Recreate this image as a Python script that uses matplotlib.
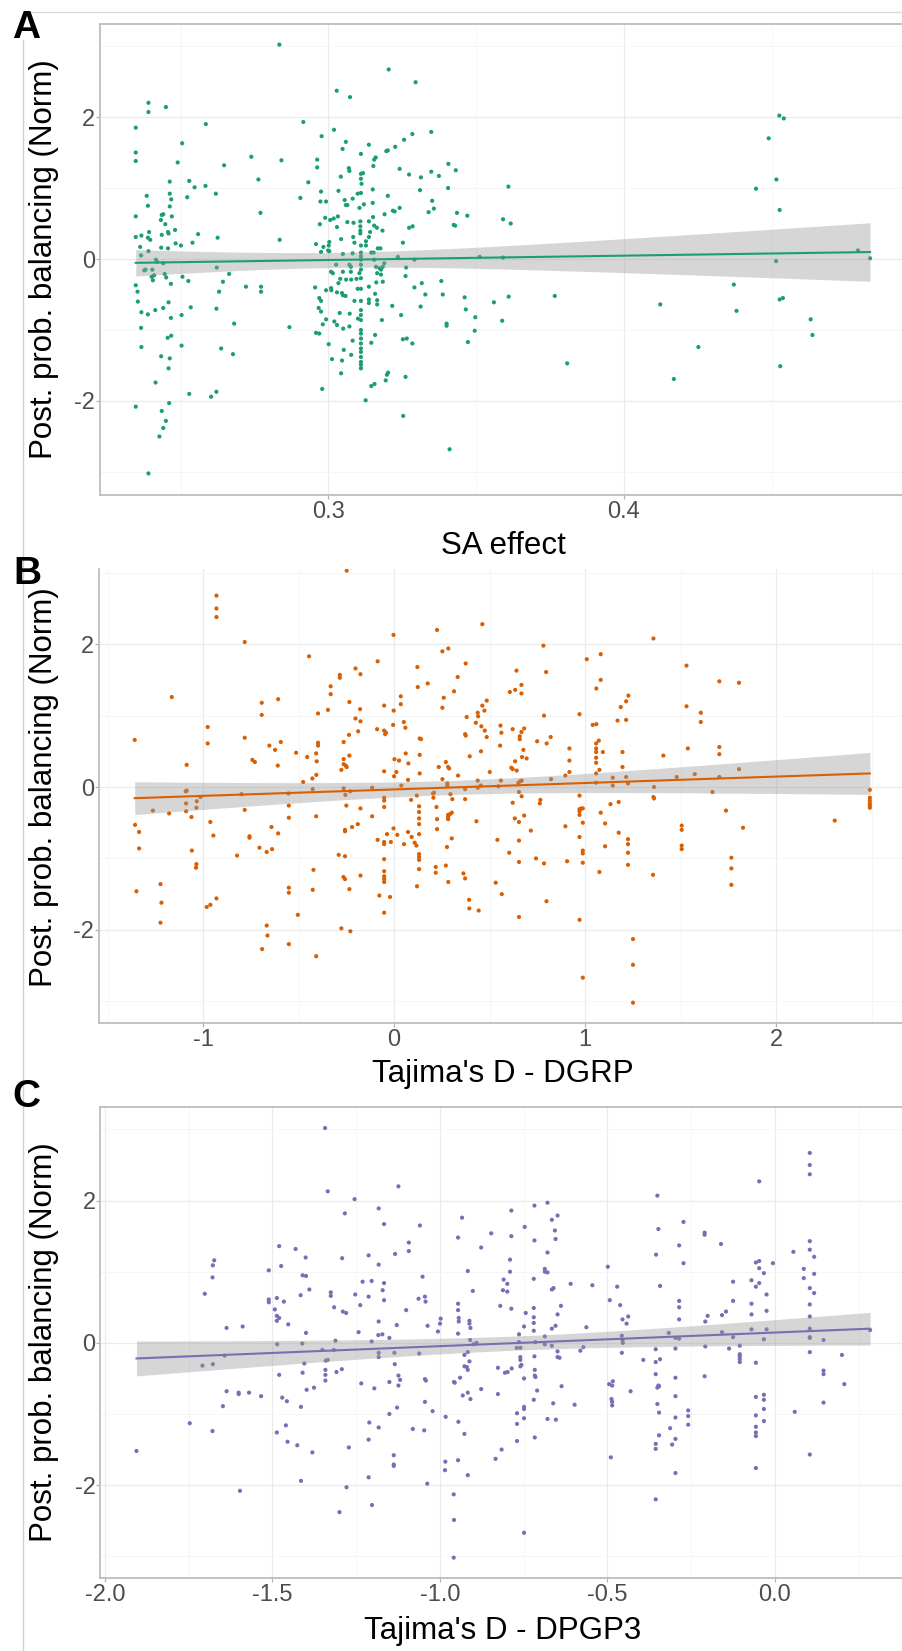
import numpy as np
import matplotlib
matplotlib.use("Agg")
import matplotlib.pyplot as plt
from matplotlib.lines import Line2D

plt.rcParams['font.family'] = ['Liberation Sans', 'DejaVu Sans']
plt.rcParams['axes.unicode_minus'] = False

# ---------------- data ----------------
# Panel A: SA effect vs posterior probability of balancing (normalised)
sa_effect = [
    0.3028, 0.3073, 0.3295, 0.2391, 0.2391, 0.2450, 0.2348, 0.2585, 0.2915, 0.3019,
    0.2977, 0.3348, 0.3284, 0.3256, 0.3059, 0.3137, 0.3048, 0.3226, 0.3201, 0.3196,
    0.2348, 0.2348, 0.2505, 0.2490, 0.2739, 0.2841, 0.2647, 0.2962, 0.2962, 0.3160,
    0.3155, 0.3110, 0.3069, 0.3071, 0.3152, 0.3110, 0.3117, 0.3042, 0.3110, 0.3112,
    0.3241, 0.3273, 0.3313, 0.3348, 0.3374, 0.3406, 0.3431, 0.3405, 0.3310, 0.2463,
    0.2529, 0.2547, 0.2584, 0.2763, 0.2932, 0.2463, 0.2385, 0.2522, 0.2619, 0.2468,
    0.2389, 0.2463, 0.2441, 0.2436, 0.2470, 0.2348, 0.2433, 0.2448, 0.2481, 0.2457,
    0.2459, 0.2348, 0.2367, 0.2393, 0.2389, 0.2397, 0.2436, 0.2434, 0.2457, 0.2483,
    0.2501, 0.2540, 0.2559, 0.2625, 0.2363, 0.2391, 0.2366, 0.2770, 0.2905, 0.2835,
    0.2975, 0.2973, 0.2992, 0.3034, 0.3055, 0.3059, 0.3064, 0.3082, 0.3099, 0.3110,
    0.3120, 0.3105, 0.3150, 0.3150, 0.3201, 0.3218, 0.3224, 0.3241, 0.3351, 0.3357,
    0.3339, 0.3435, 0.3470, 0.3424, 0.3429, 0.3273, 0.3285, 0.3190, 0.3151, 0.2971,
    0.2989, 0.3006, 0.3018, 0.3032, 0.3029, 0.3064, 0.3085, 0.3108, 0.3108, 0.3137,
    0.3108, 0.3108, 0.3155, 0.3164, 0.3183, 0.3141, 0.3137, 0.3127, 0.3084, 0.3043,
    0.3088, 0.3110, 0.3127, 0.3003, 0.3001, 0.2983, 0.3003, 0.2958, 0.2975, 0.2999,
    0.3167, 0.3176, 0.3145, 0.3153, 0.3252, 0.3235, 0.3291, 0.3512, 0.3049, 0.3082,
    0.3110, 0.3110, 0.3110, 0.3071, 0.3076, 0.3026, 0.3155, 0.3161, 0.3189, 0.3184,
    0.3110, 0.3110, 0.3009, 0.3015, 0.3049, 0.3076, 0.3105, 0.3173, 0.3178, 0.3165,
    0.3263, 0.3261, 0.3060, 0.3077, 0.3095, 0.3110, 0.3040, 0.3034, 0.3009, 0.3010,
    0.2992, 0.2955, 0.3029, 0.3046, 0.3058, 0.3049, 0.3099, 0.3110, 0.3137, 0.3162,
    0.3184, 0.3178, 0.3088, 0.3110, 0.3137, 0.3137, 0.3165, 0.3165, 0.3158, 0.3291,
    0.3316, 0.3328, 0.3382, 0.3387, 0.3461, 0.3560, 0.2969, 0.2975, 0.2967, 0.2975,
    0.2992, 0.2981, 0.3038, 0.3072, 0.3100, 0.3110, 0.3110, 0.3020, 0.3029, 0.3050,
    0.3071, 0.3110, 0.3110, 0.3110, 0.3110, 0.3082, 0.3110, 0.3110, 0.3110, 0.3110,
    0.3110, 0.3110, 0.3110, 0.3052, 0.3077, 0.3046, 0.3012, 0.3001, 0.2958, 0.2969,
    0.3043, 0.2979, 0.3126, 0.3145, 0.3156, 0.3194, 0.3198, 0.3202, 0.3145, 0.3158,
    0.3181, 0.3216, 0.3246, 0.3252, 0.3265, 0.3284, 0.3261, 0.3312, 0.3253, 0.3400,
    0.3400, 0.3465, 0.3497, 0.3495, 0.3472, 0.3410, 0.2348, 0.2354, 0.2355, 0.2367,
    0.2389, 0.2366, 0.2367, 0.2348, 0.2377, 0.2381, 0.2404, 0.2402, 0.2406, 0.2410,
    0.2416, 0.2420, 0.2441, 0.2446, 0.2451, 0.2467, 0.2414, 0.2441, 0.2459, 0.2467,
    0.2456, 0.2468, 0.2434, 0.2463, 0.2459, 0.2415, 0.2461, 0.2436, 0.2450, 0.2441,
    0.2428, 0.2391, 0.2506, 0.2526, 0.2534, 0.2503, 0.2503, 0.2529, 0.2603, 0.2621,
    0.2637, 0.2677, 0.2621, 0.2622, 0.2630, 0.2643, 0.2664, 0.2681, 0.2721, 0.2772,
    0.2772, 0.2868, 0.2834, 0.3204, 0.4526, 0.4541, 0.4490, 0.4516, 0.4447, 0.4527,
    0.3609, 0.3591, 0.3617, 0.3591, 0.4792, 0.4833, 0.4515, 0.3610, 0.3588, 0.3766,
    0.3808, 0.4123, 0.4169, 0.4252, 0.4372, 0.4381, 0.4527, 0.4538, 0.4529, 0.4632,
    0.4638,
]
balancing_a = [
    2.37, 2.28, 2.49, 2.20, 2.07, 2.14, 1.85, 1.90, 1.93, 1.82,
    1.73, 1.79, 1.76, 1.68, 1.65, 1.61, 1.55, 1.58, 1.53, 1.52,
    1.50, 1.38, 1.63, 1.36, 1.44, 1.39, 1.32, 1.40, 1.29, 1.43,
    1.40, 1.48, 1.28, 1.24, 1.31, 1.20, 1.21, 1.16, 1.13, 1.06,
    1.27, 1.19, 1.15, 1.23, 1.17, 1.34, 1.25, 1.00, 0.97, 1.09,
    1.10, 1.01, 1.03, 1.12, 1.08, 0.92, 0.89, 0.87, 0.92, 0.84,
    0.75, 0.74, 0.63, 0.62, 0.60, 0.60, 0.55, 0.49, 0.41, 0.38,
    0.36, 0.31, 0.33, 0.38, 0.30, 0.27, 0.34, 0.16, 0.15, 0.22,
    0.19, 0.23, 0.35, 0.30, 0.17, 0.11, 0.05, 0.65, 0.86, 0.27,
    0.95, 0.81, 0.81, 0.96, 0.83, 0.76, 0.76, 0.85, 0.92, 0.93,
    0.77, 0.72, 0.79, 0.98, 0.89, 0.68, 0.67, 0.72, 0.82, 0.71,
    0.66, 0.65, 0.61, 0.48, 0.47, 0.44, 0.46, 0.63, 0.59, 0.49,
    0.58, 0.55, 0.57, 0.60, 0.45, 0.52, 0.51, 0.53, 0.46, 0.53,
    0.40, 0.36, 0.47, 0.44, 0.40, 0.38, 0.31, 0.25, 0.31, 0.28,
    0.23, 0.19, 0.19, 0.24, 0.19, 0.17, 0.11, 0.21, 0.10, 0.12,
    0.15, 0.15, 0.09, 0.09, 0.23, 0.03, -0.01, 0.03, 0.07, 0.08,
    0.09, 0.04, -0.01, -0.08, -0.11, -0.08, -0.01, -0.11, -0.06, -0.11,
    -0.08, -0.15, -0.18, -0.20, -0.18, -0.18, -0.20, -0.13, -0.15, -0.20,
    -0.12, -0.24, -0.29, -0.29, -0.28, -0.27, -0.28, -0.34, -0.41, -0.44,
    -0.44, -0.40, -0.47, -0.48, -0.52, -0.51, -0.42, -0.42, -0.39, -0.33,
    -0.32, -0.22, -0.59, -0.59, -0.57, -0.62, -0.58, -0.64, -0.49, -0.40,
    -0.34, -0.50, -0.31, -0.50, -0.54, -0.61, -0.55, -0.59, -0.69, -0.74,
    -0.85, -0.92, -0.76, -0.77, -0.84, -0.72, -0.79, -0.88, -0.93, -0.98,
    -0.95, -0.86, -1.00, -1.05, -1.12, -1.15, -1.19, -1.26, -1.31, -1.38,
    -1.45, -1.49, -1.54, -1.28, -1.35, -1.43, -1.41, -1.20, -1.04, -1.05,
    -1.61, -1.83, -1.99, -1.79, -1.76, -1.71, -1.63, -1.60, -1.18, -1.07,
    -0.86, -0.66, -0.79, -1.13, -1.12, -1.19, -1.66, -0.67, -2.21, -0.91,
    -0.94, -0.71, -0.82, -1.01, -1.17, -2.68, -0.37, -0.46, -0.60, -0.75,
    -0.78, -0.97, -1.24, -2.08, -0.16, -0.15, -0.15, -0.25, -0.30, -0.23,
    -0.01, -0.04, -0.06, -0.21, -0.26, -0.35, -0.72, -0.69, -0.61, -0.83,
    -1.11, -1.08, -1.37, -1.40, -1.54, -1.74, -2.03, -2.14, -2.28, -2.38,
    -2.50, -3.02, -0.25, -0.31, -0.68, -0.79, -1.22, -1.90, -1.94, -1.87,
    -1.26, -1.34, -0.70, -0.12, -0.46, -0.32, -0.21, -0.91, -0.39, -0.39,
    -0.46, -0.96, 3.02, 2.67, 2.02, 1.98, 1.70, 1.12, 0.99, 0.69,
    1.02, 0.56, 0.50, 0.02, 0.12, 0.01, -0.03, -0.53, -0.87, -0.52,
    -1.47, -0.64, -1.69, -1.24, -0.36, -0.73, -0.57, -0.55, -1.51, -0.85,
    -1.07,
]

# Panel B: Tajima's D (DGRP)
tajima_dgrp = [
    -0.248, -0.930, -0.930, -0.930, -0.782, -0.003, 0.225, 0.462, 0.253, 0.284,
    0.375, -0.445, -0.086, 0.122, -0.202, -0.176, -0.284, -0.284, 0.176, 0.124,
    0.333, 0.314, 0.260, 0.253, -0.332, -0.332, 0.035, 0.035, -0.234, -0.052,
    -0.002, -0.178, -0.346, -0.398, -0.693, -0.693, -0.607, -1.164, -0.202, -0.176,
    -0.188, 0.051, 0.059, -0.005, -0.089, -0.052, -0.047, -0.042, -0.236, 0.380,
    0.372, 0.375, 0.428, 0.438, 0.440, 0.462, 0.473, 0.485, 0.457, 0.475,
    0.485, 0.134, 0.141, 0.134, 0.061, 0.075, 0.002, 0.026, 0.012, 0.000,
    -0.052, 0.134, 0.073, 0.038, 0.234, 0.253, 0.271, 0.283, 0.288, 0.335,
    0.396, 0.455, 0.501, 0.279, 0.279, 0.372, 0.438, 0.438, 0.454, -0.976,
    -0.976, -1.358, -1.086, -0.782, -0.742, -0.729, -0.653, -0.623, -0.593, -0.609,
    -0.513, -0.455, -0.476, -0.428, -0.408, -0.405, -0.398, -0.398, -0.407, -0.264,
    -0.264, -0.264, -0.253, -0.248, -0.276, -0.234, -0.426, -0.553, -0.551, -0.551,
    -0.799, -0.782, -1.014, -1.033, -1.035, -1.086, -1.091, -1.089, -1.089, -1.061,
    -1.263, -1.178, -1.356, -1.335, -1.335, -1.349, -0.962, -0.946, -1.059, -1.035,
    -1.037, -1.223, -1.218, -1.223, -0.981, -0.962, -0.930, -0.757, -0.757, -0.822,
    -0.705, -0.667, -0.639, -0.642, -0.607, -0.551, -0.551, -0.504, -0.667, -0.663,
    -0.691, -0.551, -0.408, -0.276, -0.229, -0.422, -0.426, -0.408, -0.250, -0.230,
    -0.255, -0.264, -0.220, -0.190, -0.257, -0.257, -0.290, -0.257, -0.265, -0.257,
    -0.234, -0.176, -0.176, -0.115, -0.115, -0.086, -0.052, -0.052, -0.052, -0.052,
    -0.052, -0.052, -0.052, -0.052, -0.052, -0.052, -0.052, -0.077, -0.021, -0.037,
    -0.017, -0.003, 0.017, 0.052, 0.073, 0.089, 0.092, 0.108, 0.117, 0.119,
    0.131, 0.131, 0.131, 0.131, 0.131, 0.131, 0.131, 0.131, 0.131, 0.120,
    0.204, 0.206, 0.209, 0.222, 0.225, 0.225, 0.218, 0.218, 0.271, 0.284,
    0.277, 0.283, 0.283, 0.283, 0.293, 0.302, 0.295, 0.305, 0.302, 0.372,
    0.363, 0.372, 0.393, 0.394, 0.443, 0.431, 0.782, 0.641, 0.796, 0.606,
    0.634, 0.667, 0.667, 1.009, 1.082, 1.059, 1.082, 1.227, 1.215, 1.187,
    1.215, 1.170, 1.358, 1.531, 1.531, 1.606, 1.606, 1.703, 1.806, 0.785,
    0.971, 1.040, 1.059, 0.557, 0.562, 0.555, 0.621, 0.681, 0.667, 0.658,
    0.658, 0.820, 0.749, 0.799, 0.677, 0.670, 0.694, 0.634, 0.614, 0.621,
    0.642, 0.918, 0.918, 0.918, 0.897, 0.822, 1.072, 1.058, 1.058, 1.058,
    1.093, 1.058, 1.058, 1.075, 1.058, 1.058, 1.196, 1.196, 1.145, 1.145,
    1.215, 1.225, 1.410, 1.538, 1.574, 1.480, 1.703, 1.703, 1.703, 1.806,
    1.667, 1.361, 1.358, 1.361, 1.738, 1.827, 1.766, 1.766, 1.766, 2.307,
    2.491, 2.491, 2.491, 2.491, 2.491, 2.491, 0.546, 0.559, 0.651, 0.660,
    0.668, 0.654, 0.668, 0.621, 0.766, 0.763, 0.632, 0.654, 0.681, 0.716,
    0.541, 0.654, 0.603, 0.654, 0.743, 0.785, 0.532, 0.564, 0.654, 0.798,
    0.971, 0.971, 0.981, 0.971, 0.971, 0.988, 0.897, 0.988, 0.971, 0.988,
    0.988, 0.988, 0.906, 0.971, 0.988, 1.082, 1.133, 1.176, 1.105, 1.105,
    1.176, 1.225, 1.225, 1.225, 1.225, 1.075, 1.356, 1.506, 1.506, 1.506,
    1.506, 1.251, 1.251, 1.251,
]
balancing_b = [
    3.03, 2.68, 2.50, 2.38, 2.03, 2.13, 2.20, 2.28, 1.90, 1.94,
    1.73, 1.83, 1.76, 1.68, 1.66, 1.58, 1.57, 1.53, 1.45, 1.40,
    1.54, 1.34, 1.25, 1.11, 1.41, 1.30, 1.27, 1.16, 1.19, 1.14,
    1.07, 1.09, 1.08, 1.03, 1.18, 1.01, 1.23, 1.26, 0.96, 0.92,
    0.78, 0.91, 0.83, 0.87, 0.81, 0.79, 0.74, 0.76, 0.73, 0.98,
    0.74, 0.72, 0.90, 1.04, 0.99, 1.14, 1.07, 1.21, 0.85, 0.79,
    0.70, 0.68, 0.67, 0.45, 0.47, 0.33, 0.39, 0.37, 0.21, 0.15,
    0.22, 0.19, 0.10, 0.02, 0.28, 0.11, 0.35, 0.28, 0.26, 0.16,
    0.43, 0.50, 0.21, 0.05, 0.02, -0.03, 0.09, -0.01, 0.02, 0.84,
    0.61, 0.66, 0.31, 0.69, 0.38, 0.35, 0.58, 0.52, 0.63, 0.30,
    0.48, 0.42, 0.07, 0.12, 0.47, 0.36, 0.62, 0.58, 0.17, 0.63,
    0.39, 0.32, 0.30, 0.28, 0.24, 0.44, -0.03, -0.09, -0.26, -0.43,
    -0.10, -0.32, -0.14, -0.20, -0.29, -0.05, -0.06, -0.23, -0.34, -0.42,
    -0.33, -0.37, -0.53, -0.63, -0.86, -1.46, -0.49, -0.68, -0.89, -1.08,
    -1.13, -1.36, -1.62, -1.90, -1.68, -1.65, -1.56, -0.69, -0.71, -0.96,
    -0.85, -0.91, -0.87, -0.56, -0.65, -1.41, -1.48, -1.79, -1.94, -2.08,
    -2.27, -2.20, -2.37, -1.98, -2.02, -1.16, -1.44, -0.41, -0.26, -0.06,
    -0.11, -0.02, -0.56, -0.52, -0.60, -0.62, -0.95, -0.97, -1.26, -1.29,
    -1.43, -0.30, -1.24, -0.41, -0.01, -0.74, -0.15, -0.19, -0.28, -0.77,
    -0.80, -1.01, -1.18, -1.25, -1.29, -1.33, -1.76, -1.52, -1.54, -0.66,
    -0.77, -0.58, -0.67, -0.80, -0.63, -0.18, -0.70, -0.78, -0.82, -0.12,
    -0.27, -0.35, -0.44, -0.52, -0.66, -0.94, -0.98, -1.02, -1.15, -1.39,
    -0.09, -0.15, -0.08, -0.28, -0.45, -0.59, -1.12, -1.20, -1.10, -1.33,
    -0.84, -0.42, -0.45, -0.39, -0.38, -0.36, -0.10, -0.17, -0.72, -0.17,
    -1.21, -1.28, -1.58, -1.70, -1.73, -0.48, 1.98, 1.63, 1.61, 1.33,
    1.36, 1.43, 1.31, 1.79, 1.86, 1.38, 1.50, 1.28, 1.20, 1.12,
    0.94, 0.93, 2.08, 1.70, 1.13, 1.04, 0.91, 1.48, 1.46, 1.00,
    1.02, 0.87, 0.88, 0.86, 0.76, 0.58, 0.81, 0.82, 0.77, 0.71,
    0.67, 0.70, 0.64, 0.61, 0.52, 0.42, 0.40, 0.36, 0.27, 0.25,
    0.23, 0.54, 0.37, 0.21, 0.16, 0.11, 0.65, 0.61, 0.54, 0.49,
    0.49, 0.41, 0.34, 0.24, 0.19, 0.06, 0.49, 0.28, 0.13, 0.02,
    0.14, 0.05, 0.44, 0.54, 0.18, 0.14, 0.56, 0.46, 0.14, 0.25,
    -0.07, 0.00, -0.14, -0.16, -0.33, -0.57, -0.99, -1.14, -1.37, -0.47,
    -0.04, -0.15, -0.19, -0.23, -0.26, -0.29, 0.01, 0.09, 0.06, 0.08,
    0.09, -0.07, -0.13, -0.22, -0.18, -0.23, -0.44, -0.49, -0.40, -0.61,
    -0.74, -0.75, -0.92, -1.05, -1.00, -1.07, -1.34, -1.50, -1.82, -1.60,
    -0.12, -0.31, -0.30, -0.34, -0.39, -0.30, -0.55, -0.50, -0.70, -0.89,
    -0.93, -1.06, -1.04, -1.86, -2.67, -0.36, -0.24, -0.21, -0.51, -0.83,
    -0.64, -0.73, -0.80, -0.92, -1.09, -1.19, -1.23, -0.54, -0.60, -0.82,
    -0.87, -2.13, -2.49, -3.02,
]

# Panel C: Tajima's D (DPGP3)
tajima_dpgp3 = [
    -1.335, -1.124, -1.255, -1.284, -1.183, -1.167, -1.060, -0.934, -0.946, -0.847,
    -0.877, -1.093, -1.093, -1.134, -1.213, -1.183, -1.292, -1.401, -1.431, -1.480,
    -1.474, -1.511, -1.674, -1.678, -1.679, -1.702, -1.410, -1.400, -1.390, -1.416,
    -1.326, -1.326, -1.253, -1.231, -1.204, -1.167, -1.171, -1.167, -1.213, -1.238,
    -1.316, -1.290, -1.280, -1.511, -1.511, -1.487, -1.466, -1.493, -1.487, -1.480,
    -1.487, -1.453, -1.637, -1.589, -1.400, -1.243, -1.183, -1.129, -1.101, -1.064,
    -1.045, -1.043, -1.052, -1.037, -1.006, -1.000, -0.998, -0.917, -0.902, -0.946,
    -0.946, -0.944, -0.944, -0.946, -0.912, -0.912, -0.909, -0.910, -0.900, -0.891,
    -1.184, -1.172, -1.151, -1.204, -1.312, -1.351, -1.317, -1.411, -1.486, -1.643,
    -1.709, -1.678, -1.405, -1.410, -1.480, -1.341, -1.335, -1.342, -1.342, -1.342,
    -1.309, -1.293, -1.183, -1.183, -1.136, -1.135, -1.124, -1.119, -1.124, -1.151,
    -1.196, -1.235, -1.062, -1.045, -1.042, -1.045, -1.022, -0.983, -0.958, -0.956,
    -0.940, -0.927, -0.917, -0.927, -0.920, -0.917, -0.912, -0.932, -0.917, -0.909,
    -0.877, -0.945, -0.927, -0.946, -0.917, -0.984, -0.985, -0.959, -0.958, -0.959,
    -1.038, -1.081, -1.047, -1.151, -1.128, -1.183, -1.211, -1.213, -1.138, -1.138,
    -1.138, -1.213, -1.203, -1.279, -1.300, -1.272, -1.381, -1.426, -1.455, -1.460,
    -1.487, -1.415, -1.415, -1.398, -1.376, -1.457, -1.471, -1.534, -1.570, -1.601,
    -1.601, -1.637, -1.648, -1.747, -1.679, -1.597, -1.906, -1.343, -0.047, -0.351,
    -0.348, -0.355, -0.343, -0.273, -0.286, -0.273, -0.210, -0.210, -0.161, -0.499,
    -0.787, -0.718, -0.679, -0.747, -0.666, -0.649, -0.657, -0.655, -0.787, -0.718,
    -0.679, -0.791, -0.791, -0.687, -0.687, -0.679, -0.810, -0.799, -0.812, -0.799,
    -0.720, -0.666, -0.661, -0.610, -0.545, -0.820, -0.787, -0.720, -0.744, -0.720,
    -0.720, -0.720, -0.749, -0.639, -0.649, -0.655, -0.666, -0.764, -0.764, -0.715,
    -0.687, -0.687, -0.666, -0.771, -0.760, -0.563, -0.572, -0.581, -0.649, -0.649,
    -0.643, -0.718, -0.760, -0.760, -0.757, -0.760, -0.749, -0.827, -0.806, -0.798,
    -0.786, -0.717, -0.717, -0.715, -0.710, -0.720, -0.637, -0.827, -0.662, -0.598,
    -0.749, -0.749, -0.770, -0.749, -0.770, -0.679, -0.654, -0.717, -0.770, -0.816,
    -0.834, -0.749, -0.457, -0.454, -0.457, -0.455, -0.493, -0.471, -0.462, -0.455,
    -0.443, -0.438, -0.495, -0.484, -0.486, -0.488, -0.486, -0.486, -0.431, -0.393,
    -0.356, -0.356, -0.343, -0.356, -0.348, -0.351, -0.346, -0.351, -0.346, -0.346,
    -0.356, -0.356, -0.356, -0.490, -0.317, -0.297, -0.286, -0.297, -0.297, -0.297,
    -0.297, -0.297, -0.313, -0.307, -0.297, -0.259, -0.259, -0.259, -0.286, -0.286,
    -0.286, -0.208, -0.201, -0.208, -0.210, -0.158, -0.146, -0.158, -0.125, -0.125,
    -0.125, -0.137, -0.105, -0.105, -0.105, -0.105, -0.105, -0.070, -0.057, -0.047,
    -0.047, -0.033, -0.047, -0.057, -0.070, -0.070, -0.070, -0.025, -0.025, -0.025,
    -0.033, -0.006, -0.057, -0.057, -0.033, -0.033, -0.033, -0.033, -0.057, -0.057,
    -0.057, -0.057, -0.057, 0.055, 0.086, 0.086, 0.104, 0.104, 0.117, 0.117,
    0.104, 0.117, 0.104, 0.104, 0.104, 0.104, 0.104, 0.104, 0.104, 0.145,
    0.145, 0.145, 0.145, 0.200, 0.207, 0.059, 0.284, 0.104, 0.104, 0.104,
]
balancing_c = [
    2.13, 2.20, 2.02, 1.82, 1.89, 1.67, 1.65, 1.76, 1.48, 1.54,
    1.34, 1.41, 1.29, 1.25, 1.23, 1.10, 1.19, 1.20, 1.32, 1.36,
    1.08, 1.02, 1.16, 1.09, 0.92, 0.69, 0.95, 0.94, 0.75, 0.67,
    0.71, 0.66, 0.68, 0.86, 0.87, 0.84, 0.74, 0.60, 0.65, 0.53,
    0.50, 0.44, 0.42, 0.61, 0.57, 0.63, 0.58, 0.47, 0.38, 0.35,
    0.31, 0.26, 0.21, 0.23, 0.14, 0.15, 0.30, 0.25, 0.46, 0.62,
    0.65, 0.58, 0.93, 0.24, 0.16, 0.27, 0.34, 1.01, 0.73, 0.55,
    0.46, 0.35, 0.30, 0.13, 0.31, 0.27, 0.21, 0.04, -0.02, 0.00,
    0.11, 0.12, 0.07, 0.02, 0.03, -0.10, -0.10, -0.01, -0.02, -0.18,
    -0.32, -0.30, -0.29, -0.42, -0.45, -0.25, -0.24, -0.38, -0.45, -0.53,
    -0.41, -0.37, -0.14, -0.20, -0.14, -0.30, -0.46, -0.52, -0.60, -0.55,
    -0.64, -0.57, -0.15, -0.51, -0.53, -0.83, -0.96, -1.04, -0.55, -0.56,
    -0.49, -0.17, -0.13, -0.33, -0.34, -0.38, -0.26, -0.74, -0.70, -0.79,
    -0.65, -1.11, -1.28, -1.65, -1.86, -1.67, -1.79, -2.13, -2.49, -3.02,
    -1.98, -1.21, -1.23, -1.00, -0.91, -1.19, -1.12, -1.36, -1.58, -1.71,
    -1.73, -1.89, -2.28, -2.03, -2.38, -1.47, -1.54, -1.44, -1.39, -1.16,
    -1.26, -1.94, -0.90, -0.66, -0.63, -0.82, -0.77, -0.75, -0.70, -0.70,
    -0.72, -0.68, -0.89, -1.13, -1.24, -2.08, -1.52, 3.02, 2.27, 2.07,
    1.60, 1.24, 0.80, 1.70, 1.37, 1.12, 1.55, 1.52, 1.39, 1.07,
    1.86, 1.93, 1.97, 1.63, 1.73, 1.79, 1.58, 1.46, 1.50, 1.44,
    1.27, 1.17, 1.00, 1.04, 1.00, 0.99, 0.89, 0.83, 0.74, 0.72,
    0.90, 0.75, 0.77, 0.83, 0.81, 0.52, 0.48, 0.49, 0.42, 0.36,
    0.28, 0.17, 0.23, 0.52, 0.40, 0.24, 0.20, 0.12, 0.01, 0.01,
    0.09, -0.02, -0.04, -0.07, -0.07, 0.22, -0.06, -0.11, -0.12, -0.20,
    -0.21, -0.19, -0.20, -0.24, -0.31, -0.33, -0.50, -0.35, -0.42, -0.41,
    -0.36, -0.38, -0.46, -0.48, -0.67, -0.80, -0.61, -0.72, -0.85, -0.87,
    -0.90, -0.93, -0.99, -1.06, -1.14, -1.07, -1.08, -1.33, -1.38, -1.50,
    -1.63, -2.67, 0.10, -0.00, -0.14, 0.04, 0.60, 0.79, 0.53, 0.33,
    0.27, 0.37, -0.58, -0.54, -0.60, -0.79, -0.83, -0.88, -0.68, -0.24,
    -0.09, -0.27, -0.23, -0.44, -0.60, -0.63, -0.61, -0.86, -0.98, -1.30,
    -1.42, -1.49, -2.20, -1.61, 0.14, 0.07, 0.06, -0.08, -0.49, -0.75,
    -1.05, -1.35, -1.20, -1.43, -1.83, -0.95, -1.03, -1.15, 0.59, 0.50,
    0.33, 0.30, 0.38, -0.05, -0.47, 0.39, 0.44, 0.15, 0.86, 0.59,
    0.08, -0.08, -0.04, -0.16, -0.19, -0.23, -0.27, 0.88, 1.13, 1.15,
    1.05, 0.98, 0.84, 0.79, 0.55, 0.40, 0.19, 0.68, 0.45, 0.19,
    0.05, 1.12, -0.28, -0.76, -0.73, -0.80, -0.93, -1.10, -1.02, -1.18,
    -1.26, -1.31, -1.76, 1.28, 1.04, 0.91, 1.43, 1.31, 1.21, 0.97,
    0.77, 0.70, 0.54, 0.37, 0.20, 0.08, 0.07, -0.13, -1.57, 0.04,
    -0.39, -0.44, -0.84, -0.17, -0.58, -0.97, 0.18, 2.67, 2.50, 2.37,
]

panel_letters = ["A", "B", "C"]
x_titles = ["SA effect", "Tajima's D - DGRP", "Tajima's D - DPGP3"]
y_title = "Post. prob. balancing (Norm)"
colors = ["#1B9E77", "#D95F02", "#7570B3"]

a_xticks = [0.3, 0.4]
a_xticklabels = ["0.3", "0.4"]
a_xminor = [0.25, 0.35, 0.45]
b_xticks = [-1, 0, 1, 2]
b_xticklabels = ["-1", "0", "1", "2"]
b_xminor = [-1.5, -0.5, 0.5, 1.5, 2.5]
c_xticks = [-2.0, -1.5, -1.0, -0.5, 0.0]
c_xticklabels = ["-2.0", "-1.5", "-1.0", "-0.5", "0.0"]
c_xminor = [-1.75, -1.25, -0.75, -0.25, 0.25]
y_ticks = [-2, 0, 2]
y_ticklabels = ["-2", "0", "2"]
y_minor = [-3, -1, 1, 3]

# ---------------- figure ----------------
W, H = 902, 1651
fig = plt.figure(figsize=(W / 100, H / 100), dpi=100)


def px_axes(left, top, right, bottom):
    return [left / W, 1 - bottom / H, (right - left) / W, (bottom - top) / H]


def fx(x):
    return x / W


def fy(y):
    return 1 - y / H


panels = [
    dict(rect=px_axes(100, 24, 907, 495), xlim=(0.2227, 0.4958), ylim=(-3.324, 3.31),
         x=sa_effect, y=balancing_a, xt=a_xticks, xtl=a_xticklabels, xm=a_xminor,
         top_spine=True, ycenter=259.5, xlab_base=554, letter=(26.5, 37.5)),
    dict(rect=px_axes(99, 569, 906.5, 1023.3), xlim=(-1.545, 2.683), ylim=(-3.309, 3.053),
         x=tajima_dgrp, y=balancing_b, xt=b_xticks, xtl=b_xticklabels, xm=b_xminor,
         top_spine=False, ycenter=787, xlab_base=1082, letter=(27, 583.5)),
    dict(rect=px_axes(100.3, 1106.7, 906.6, 1578.3), xlim=(-2.014, 0.393), ylim=(-3.31, 3.32),
         x=tajima_dpgp3, y=balancing_c, xt=c_xticks, xtl=c_xticklabels, xm=c_xminor,
         top_spine=True, ycenter=1342.5, xlab_base=1639, letter=(26.5, 1107)),
]

T975 = 1.967  # Student t quantile (97.5%) for n ~ 360-400

for i, p in enumerate(panels):
    ax = fig.add_axes(p["rect"])
    x = np.asarray(p["x"], float)
    y = np.asarray(p["y"], float)
    ax.scatter(x, y, s=9, color=colors[i], edgecolors="none", zorder=2)

    # linear fit with 95% confidence band (geom_smooth(method = "lm"))
    slope, icpt = np.polyfit(x, y, 1)
    xs = np.linspace(x.min(), x.max(), 200)
    ys = icpt + slope * xs
    n = len(x)
    resid = y - (icpt + slope * x)
    s = np.sqrt(np.sum(resid ** 2) / (n - 2))
    sxx = np.sum((x - x.mean()) ** 2)
    se = s * np.sqrt(1.0 / n + (xs - x.mean()) ** 2 / sxx)
    ax.fill_between(xs, ys - T975 * se, ys + T975 * se, color="#999999", alpha=0.4,
                    linewidth=0, zorder=3)
    ax.plot(xs, ys, color=colors[i], lw=1.5, zorder=4)

    ax.set_xlim(*p["xlim"])
    ax.set_ylim(*p["ylim"])
    ax.set_xticks(p["xt"])
    ax.set_xticklabels(p["xtl"])
    ax.set_xticks(p["xm"], minor=True)
    ax.set_yticks(y_ticks)
    ax.set_yticklabels(y_ticklabels)
    ax.set_yticks(y_minor, minor=True)
    ax.grid(which="major", color="#EBEBEB", lw=0.9)
    ax.grid(which="minor", color="#F5F5F5", lw=0.7)
    ax.set_axisbelow(True)
    for side in ["left", "bottom", "top", "right"]:
        ax.spines[side].set_color("#BDBDBD")
        ax.spines[side].set_linewidth(1.3)
    ax.spines["right"].set_visible(False)
    ax.spines["top"].set_visible(p["top_spine"])
    ax.tick_params(which="major", length=2.6, width=0.9, color="#B3B3B3",
                   labelcolor="#4D4D4D", labelsize=17)
    ax.tick_params(axis="x", which="major", pad=1.6)
    ax.tick_params(axis="y", which="major", pad=0.8)
    ax.tick_params(which="minor", length=0)

    # axis titles and panel letter
    fig.text(fx(503), fy(p["xlab_base"]), x_titles[i], ha="center", va="baseline",
             fontsize=22.5, color="black")
    fig.text(fx(52.5), fy(p["ycenter"]), y_title, rotation=90, rotation_mode="anchor",
             ha="center", va="baseline", fontsize=22.5, color="black")
    lx, ly = p["letter"]
    fig.text(fx(lx), fy(ly), panel_letters[i], ha="center", va="baseline",
             fontsize=28, fontweight="bold", color="black")

# thin frame lines of the composite figure
fig.add_artist(Line2D([fx(28), fx(902)], [fy(11.7), fy(11.7)], transform=fig.transFigure,
                      color="#D9D9D9", lw=1.0))
fig.add_artist(Line2D([fx(22.7), fx(22.7)], [fy(40), fy(1651)], transform=fig.transFigure,
                      color="#D0D0D0", lw=1.0))

fig.savefig("out.png", dpi=100)
